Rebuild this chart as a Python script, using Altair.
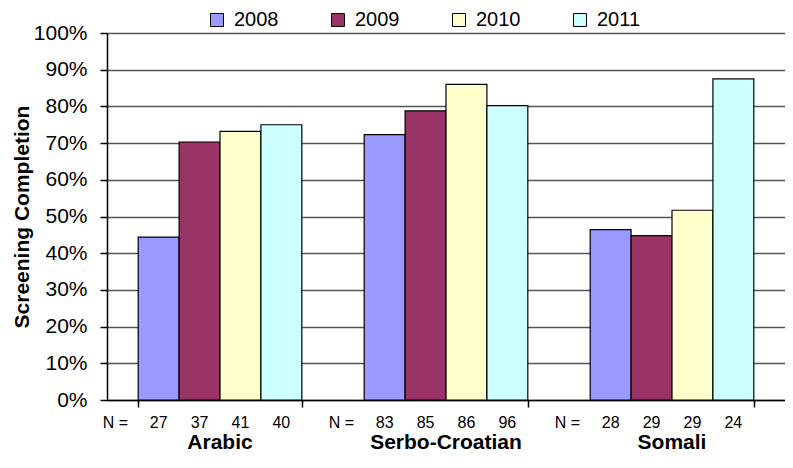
import altair as alt
import pandas as pd

groups = ["Arabic", "Serbo-Croatian", "Somali"]
years = ["2008", "2009", "2010", "2011"]
colors = ["#9999FF", "#993366", "#FFFFCC", "#CCFFFF"]
arabic = [0.444, 0.703, 0.732, 0.750]
serbo = [0.723, 0.788, 0.860, 0.802]
somali = [0.464, 0.448, 0.517, 0.875]
n_arabic = [27, 37, 41, 40]
n_serbo = [83, 85, 86, 96]
n_somali = [28, 29, 29, 24]
y_ticks = [0, 0.1, 0.2, 0.3, 0.4, 0.5, 0.6, 0.7, 0.8, 0.9, 1.0]

rows = []
for g, vals, ns in zip(groups, [arabic, serbo, somali], [n_arabic, n_serbo, n_somali]):
    for y, v, n in zip(years, vals, ns):
        rows.append({"group": g, "year": y, "value": v, "n": n})
df = pd.DataFrame(rows)
gdf = pd.DataFrame({"group": groups})

W, H = 678, 367
FONT = "Liberation Sans"

xscale = alt.Scale(domain=groups, paddingInner=0.276, paddingOuter=0.138)
xoff = alt.XOffset("year:N", sort=years, scale=alt.Scale(domain=years, paddingInner=0, paddingOuter=0))

bars = alt.Chart(df).mark_bar(stroke="black", strokeWidth=1.2).encode(
    x=alt.X("group:N", sort=groups, scale=xscale,
            axis=alt.Axis(labels=False, title=None, tickBand="extent", domainColor="black",
                          domainWidth=1.5, tickColor="black", tickWidth=1.5, tickSize=7, grid=False)),
    xOffset=xoff,
    y=alt.Y("value:Q", scale=alt.Scale(domain=[0, 1], nice=False),
            axis=alt.Axis(format=".0%", values=y_ticks, title="Screening Completion",
                          titleFont=FONT, titleFontSize=21, titleFontWeight="bold", titleColor="black",
                          titlePadding=1, labelFont=FONT, labelFontSize=21, labelColor="black",
                          labelPadding=13, tickSize=7, tickColor="black", tickWidth=1.5,
                          domainColor="black", domainWidth=1.5,
                          grid=True, gridColor="#555555", gridWidth=1.3)),
    color=alt.Color("year:N", sort=years, scale=alt.Scale(domain=years, range=colors),
                    legend=alt.Legend(title=None, orient="none", direction="horizontal",
                                      legendX=100, legendY=-23, symbolType="square",
                                      symbolSize=169, symbolStrokeColor="black", symbolStrokeWidth=1,
                                      labelFont=FONT, labelFontSize=20, labelColor="black",
                                      labelOffset=7, columnPadding=49)),
)

ntext = alt.Chart(df).mark_text(font=FONT, fontSize=16, color="black", baseline="middle").encode(
    x=alt.X("group:N", sort=groups, scale=xscale),
    xOffset=xoff,
    y=alt.value(H + 23),
    text="n:Q",
)

nlabel = alt.Chart(gdf).mark_text(font=FONT, fontSize=16, color="black", baseline="middle",
                                  align="right", dx=-92).encode(
    x=alt.X("group:N", sort=groups, scale=xscale),
    y=alt.value(H + 23),
    text=alt.value("N ="),
)

glabel = alt.Chart(gdf).mark_text(font=FONT, fontSize=21, fontWeight="bold", color="black",
                                  baseline="middle").encode(
    x=alt.X("group:N", sort=groups, scale=xscale),
    y=alt.value(H + 43),
    text="group:N",
)

chart = alt.layer(bars, ntext, nlabel, glabel).properties(
    width=W, height=H,
    autosize=alt.AutoSizeParams(type="none"),
    padding={"left": 99, "top": 25, "right": 0, "bottom": 54},
    background="white",
).configure_view(stroke=None)

chart.save("out.html", embed_options={"renderer": "svg", "actions": False})
